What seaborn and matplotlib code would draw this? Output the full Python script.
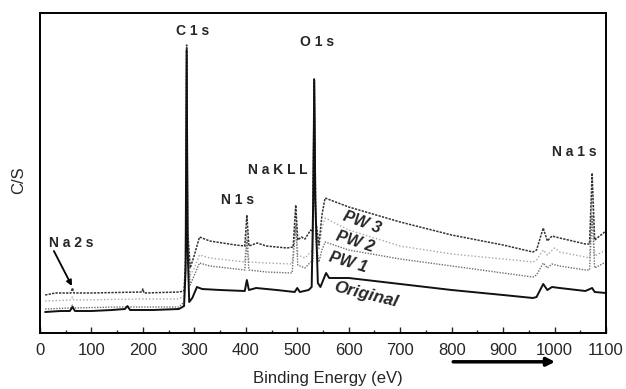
import numpy as np
import pandas as pd
import matplotlib
matplotlib.use("Agg")
import matplotlib.pyplot as plt
import seaborn as sns

# XPS survey spectra (binding energy in eV, intensity in arbitrary counts)
energy_original = [10, 40, 58, 63, 68, 100, 140, 165, 170, 175, 220, 270, 280, 283, 285, 287,
                   290, 296, 305, 315, 350, 398, 402, 406, 420, 460, 495, 500, 505, 522, 528,
                   531, 533, 535, 540, 545, 552, 556, 562, 600, 700, 800, 900, 958, 965, 978,
                   986, 995, 1010, 1060, 1073, 1078, 1100]
counts_original = [21, 22, 22, 26, 22, 22, 23, 24, 27, 23, 23, 24, 27, 63, 283, 83,
                   31, 35, 46, 44, 43, 42, 53, 43, 45, 43, 41, 45, 41, 43, 46,
                   133, 253, 133, 50, 46, 55, 60, 55, 55, 49, 43, 38, 35, 36, 49,
                   43, 46, 45, 42, 45, 41, 40]

energy_pw1 = [10, 60, 63, 66, 150, 270, 280, 283, 285, 287, 292, 300, 310, 330, 398, 402,
              406, 440, 490, 497, 501, 515, 526, 530, 533, 536, 542, 548, 554, 600, 700,
              800, 900, 958, 965, 978, 986, 995, 1010, 1060, 1068, 1073, 1078, 1100]
counts_pw1 = [24, 25, 28, 25, 26, 26, 31, 73, 273, 83, 48, 58, 70, 67, 63, 93,
              63, 61, 60, 108, 68, 65, 71, 71, 251, 93, 71, 83, 91, 83, 74,
              67, 60, 56, 58, 70, 65, 69, 67, 63, 63, 118, 65, 71]

energy_pw2 = [10, 60, 63, 66, 200, 270, 280, 283, 285, 287, 292, 300, 310, 330, 398, 402,
              406, 440, 490, 497, 501, 515, 526, 530, 533, 536, 542, 548, 554, 600, 700,
              800, 900, 958, 965, 978, 986, 1000, 1010, 1060, 1068, 1073, 1078, 1100]
counts_pw2 = [32, 33, 36, 33, 34, 34, 37, 83, 278, 93, 58, 65, 78, 75, 71, 103,
              71, 70, 69, 118, 78, 75, 81, 83, 253, 103, 83, 105, 115, 103, 87,
              79, 74, 71, 73, 83, 78, 85, 81, 76, 75, 138, 77, 83]

energy_pw3 = [10, 30, 60, 63, 66, 100, 198, 200, 202, 270, 280, 283, 285, 287, 292, 300,
              310, 330, 380, 398, 402, 406, 422, 440, 480, 492, 497, 501, 508, 515, 526,
              530, 533, 536, 542, 548, 554, 600, 700, 800, 900, 958, 965, 978, 986, 995,
              1010, 1060, 1068, 1073, 1078, 1100]
counts_pw3 = [38, 40, 40, 45, 40, 40, 41, 44, 40, 41, 42, 73, 288, 103, 65, 78,
              96, 92, 88, 87, 118, 87, 90, 87, 85, 86, 128, 93, 96, 94, 103,
              101, 255, 113, 88, 118, 135, 126, 111, 98, 88, 81, 83, 105, 92, 97,
              95, 89, 89, 160, 93, 102]

frames = []
for name, e, c in [("Original", energy_original, counts_original),
                   ("PW 1", energy_pw1, counts_pw1),
                   ("PW 2", energy_pw2, counts_pw2),
                   ("PW 3", energy_pw3, counts_pw3)]:
    frames.append(pd.DataFrame({"energy": e, "counts": c, "sample": name}))
df = pd.concat(frames, ignore_index=True)

sns.set_style("white")
plt.rcParams["font.family"] = ["Liberation Sans", "DejaVu Sans"]

fig = plt.figure(figsize=(6.26, 3.89), dpi=100)
ax = fig.add_axes([40 / 626, 1 - 333 / 389, 566 / 626, 320 / 389])

palette = {"Original": "#111111", "PW 1": "#707070", "PW 2": "#a8a8a8", "PW 3": "#333333"}
dashes = {"Original": "", "PW 1": (1, 1), "PW 2": (1, 1.5), "PW 3": (1.5, 0.8)}
widths = {"Original": 1.4, "PW 1": 1.0, "PW 2": 1.0, "PW 3": 1.1}

for name in ["PW 2", "PW 1", "PW 3", "Original"]:
    sub = df[df["sample"] == name]
    sns.lineplot(data=sub, x="energy", y="counts", ax=ax, color=palette[name],
                 linewidth=widths[name], sort=False, estimator=None,
                 dashes=False, legend=False)
    line = ax.lines[-1]
    if dashes[name]:
        line.set_dashes(dashes[name])

ax.set_xlim(0, 1100)
ax.set_ylim(0, 320)
ax.set_xticks(np.arange(0, 1101, 100))
ax.set_xticks(np.arange(50, 1100, 100), minor=True)
ax.set_yticks([])
ax.tick_params(axis="x", which="major", direction="in", length=4, width=1,
               labelsize=12, pad=7, top=False, bottom=True)
ax.tick_params(axis="x", which="minor", direction="in", length=2.5, width=1,
               top=False, bottom=True)
for sp in ax.spines.values():
    sp.set_color("black")
    sp.set_linewidth(1.4)

ax.set_xlabel("Binding Energy (eV)", fontsize=12)
ax.xaxis.set_label_coords(0.509, -0.118)
ax.set_ylabel("C/S", fontsize=12)
ax.yaxis.set_label_coords(-0.025, 0.478)

# Peak assignments
peak_kw = dict(fontsize=10, fontweight="bold", ha="center", va="center")
ax.text(297, 302, "C 1 s", **peak_kw)
ax.text(538, 291, "O 1 s", **peak_kw)
ax.text(383, 133, "N 1 s", **peak_kw)
ax.text(463, 163, "N a K L L", **peak_kw)
ax.text(1038, 181, "N a 1 s", **peak_kw)
ax.text(60, 90, "N a 2 s", **peak_kw)
ax.annotate("", xy=(62, 47), xytext=(27, 82),
            arrowprops=dict(arrowstyle="-|>", color="black", lw=1.3,
                            shrinkA=0, shrinkB=0, mutation_scale=8))

# Sample labels along the curves
lab_kw = dict(fontweight="bold", fontstyle="italic", ha="center", va="center")
ax.text(626, 111, "PW 3", rotation=-20, fontsize=11.5, **lab_kw)
ax.text(612, 91, "PW 2", rotation=-18, fontsize=11.5, **lab_kw)
ax.text(599, 71, "PW 1", rotation=-17, fontsize=11.5, **lab_kw)
ax.text(634, 38, "Original", rotation=-14, fontsize=12.5, **lab_kw)

# Direction arrow below the energy axis
ax.annotate("", xy=(1001, -0.09), xytext=(803, -0.09),
            xycoords=ax.get_xaxis_transform(), textcoords=ax.get_xaxis_transform(),
            annotation_clip=False,
            arrowprops=dict(arrowstyle="-|>", color="black", lw=2.5,
                            mutation_scale=12, shrinkA=0, shrinkB=0))

fig.savefig("out.png", dpi=100)
